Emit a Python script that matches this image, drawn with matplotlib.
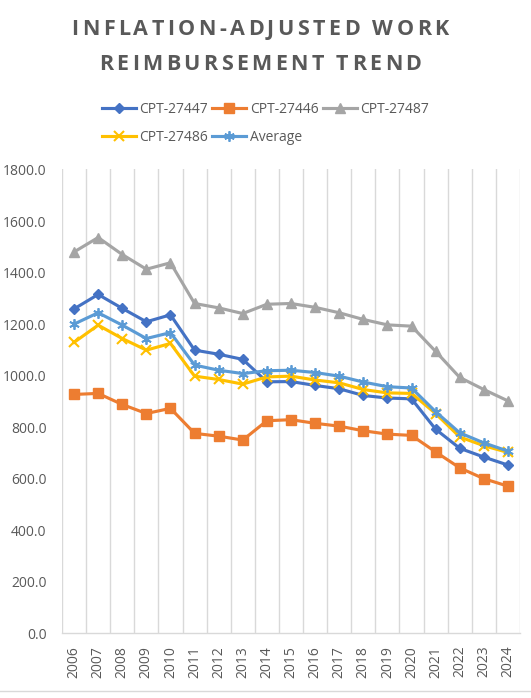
import matplotlib
matplotlib.use("Agg")
import matplotlib.pyplot as plt
from matplotlib.lines import Line2D

# Colors
text_grey = '#595959'
grid_grey = '#D9D9D9'
c_blue = '#4472C4'
c_orange = '#ED7D31'
c_grey = '#A5A5A5'
c_yellow = '#FFC000'
c_light = '#5B9BD5'

plt.rcParams['font.family'] = ['Open Sans', 'DejaVu Sans']

# Data
years = ['2006', '2007', '2008', '2009', '2010', '2011', '2012', '2013', '2014', '2015',
         '2016', '2017', '2018', '2019', '2020', '2021', '2022', '2023', '2024']
cpt_27447 = [1259, 1315, 1261, 1209, 1236, 1099, 1083, 1063, 976, 977,
             962, 949, 923, 913, 910, 792, 718, 684, 653]
cpt_27446 = [927, 931, 888, 853, 873, 776, 765, 750, 825, 829,
             815, 804, 786, 773, 768, 704, 642, 600, 571]
cpt_27487 = [1480, 1536, 1470, 1413, 1438, 1280, 1263, 1241, 1277, 1280,
             1265, 1244, 1218, 1197, 1192, 1094, 993, 946, 902]
cpt_27486 = [1129, 1196, 1144, 1099, 1125, 998, 985, 967, 995, 998,
             983, 972, 946, 933, 931, 853, 762, 728, 702]
average = [1200, 1244, 1196, 1144, 1167, 1041, 1021, 1008, 1019, 1021,
           1012, 998, 975, 957, 952, 860, 778, 739, 707]
title_lines = ['INFLATION-ADJUSTED WORK', 'REIMBURSEMENT TREND']

W, H = 531, 698
fig = plt.figure(figsize=(W / 100, H / 100), dpi=100)
ax = fig.add_axes([62 / W, 1 - 633.3 / H, 458 / W, 463.8 / H])

x = list(range(len(years)))
series = [
    ('CPT-27447', cpt_27447, c_blue, dict(marker='D', ms=5.5)),
    ('CPT-27446', cpt_27446, c_orange, dict(marker='s', ms=7)),
    ('CPT-27487', cpt_27487, c_grey, dict(marker='^', ms=7.5)),
    ('CPT-27486', cpt_27486, c_yellow, dict(marker='x', ms=6.5, mew=1.5)),
    ('Average', average, c_light, dict(marker=(6, 2, 0), ms=7.5, mew=1.3)),
]
handles = []
for name, vals, col, mk in series:
    h, = ax.plot(x, vals, color=col, lw=2.25, label=name, mfc=col, mec=col,
                 solid_joinstyle='round', **mk)
    handles.append(h)

# Axes styling
ax.set_xlim(-0.5, len(years) - 0.5)
ax.set_ylim(0, 1800)
ax.set_yticks(range(0, 1801, 200))
ax.set_yticklabels([f"{v:.1f}" for v in range(0, 1801, 200)])
ax.set_xticks(x)
ax.set_xticklabels(years, rotation=90)
ax.tick_params(axis='both', length=0, labelsize=10, labelcolor=text_grey)
ax.tick_params(axis='y', pad=11)
ax.tick_params(axis='x', pad=9)
for lab in ax.get_xticklabels():
    lab.set_va('top')
for s in ['left', 'right', 'top']:
    ax.spines[s].set_visible(False)
ax.spines['bottom'].set_color(grid_grey)
ax.spines['bottom'].set_linewidth(1)
for b in range(len(years) + 1):
    ax.axvline(b - 0.5, color=grid_grey, lw=1, zorder=0)

# Legend, filled row by row
order = [0, 3, 1, 4, 2]
fig.legend([handles[i] for i in order], [series[i][0] for i in order],
           loc='center', bbox_to_anchor=(0.5, 1 - 123.5 / H), ncol=3, frameon=False,
           fontsize=10, labelcolor=text_grey, handlelength=2.45, handletextpad=0.25,
           columnspacing=0.3, labelspacing=0.95)

# Title with letter spacing
renderer = fig.canvas.get_renderer()
title_size = 15.5


def text_width(s):
    t = fig.text(0, 0, s, fontsize=title_size, fontweight='bold')
    w = t.get_window_extent(renderer).width
    t.remove()
    return w


base = text_width('HH')
for line, baseline in zip(title_lines, [35, 70]):
    widths = [text_width('H' + ch + 'H') - base for ch in line]
    spacing = 3.4
    total = sum(widths) + spacing * (len(line) - 1)
    xpos = 260 - total / 2
    for ch, w in zip(line, widths):
        fig.text(xpos / W, 1 - baseline / H, ch, fontsize=title_size, fontweight='bold',
                 color=text_grey, ha='left', va='baseline')
        xpos += w + spacing

fig.add_artist(Line2D([0, 1], [1 - 691 / H, 1 - 691 / H], color=grid_grey, lw=1))

fig.savefig('out.png', dpi=100)
